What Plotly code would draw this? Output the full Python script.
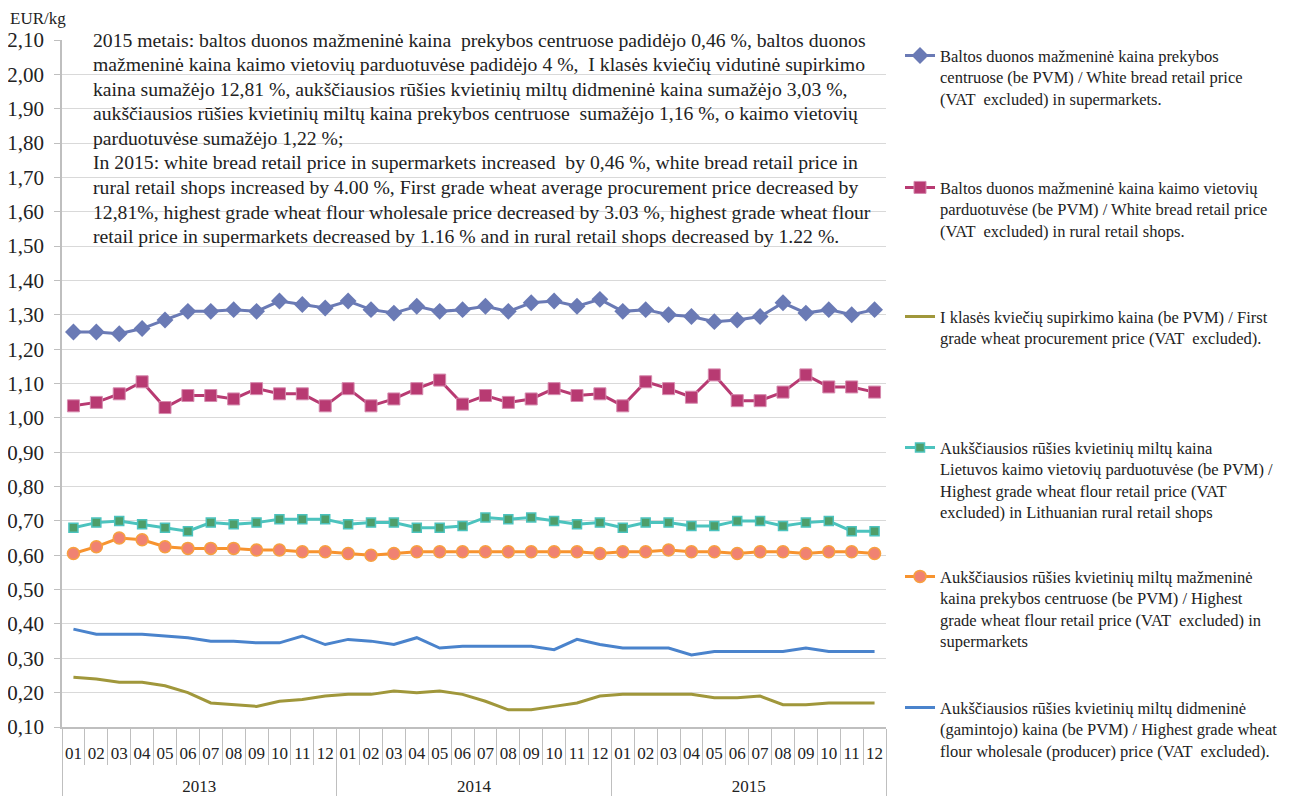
import plotly.graph_objects as go

months = ["01", "02", "03", "04", "05", "06", "07", "08", "09", "10", "11", "12"] * 3
years = ["2013"] * 12 + ["2014"] * 12 + ["2015"] * 12

white_bread_super = [1.25, 1.25, 1.245, 1.26, 1.285, 1.31, 1.31, 1.315, 1.31, 1.34, 1.33, 1.32,
                     1.34, 1.315, 1.305, 1.325, 1.31, 1.315, 1.325, 1.31, 1.335, 1.34, 1.325, 1.345,
                     1.31, 1.315, 1.30, 1.295, 1.28, 1.285, 1.295, 1.335, 1.305, 1.315, 1.30, 1.315]
white_bread_rural = [1.035, 1.045, 1.07, 1.105, 1.03, 1.065, 1.065, 1.055, 1.085, 1.07, 1.07, 1.035,
                     1.085, 1.035, 1.055, 1.085, 1.11, 1.04, 1.065, 1.045, 1.055, 1.085, 1.065, 1.07,
                     1.035, 1.105, 1.085, 1.06, 1.125, 1.05, 1.05, 1.075, 1.125, 1.09, 1.09, 1.075]
wheat_procurement = [0.245, 0.24, 0.23, 0.23, 0.22, 0.20, 0.17, 0.165, 0.16, 0.175, 0.18, 0.19,
                     0.195, 0.195, 0.205, 0.20, 0.205, 0.195, 0.175, 0.15, 0.15, 0.16, 0.17, 0.19,
                     0.195, 0.195, 0.195, 0.195, 0.185, 0.185, 0.19, 0.165, 0.165, 0.17, 0.17, 0.17]
flour_rural = [0.68, 0.695, 0.70, 0.69, 0.68, 0.67, 0.695, 0.69, 0.695, 0.705, 0.705, 0.705,
               0.69, 0.695, 0.695, 0.68, 0.68, 0.685, 0.71, 0.705, 0.71, 0.70, 0.69, 0.695,
               0.68, 0.695, 0.695, 0.685, 0.685, 0.70, 0.70, 0.685, 0.695, 0.70, 0.67, 0.67]
flour_super = [0.605, 0.625, 0.65, 0.645, 0.625, 0.62, 0.62, 0.62, 0.615, 0.615, 0.61, 0.61,
               0.605, 0.60, 0.605, 0.61, 0.61, 0.61, 0.61, 0.61, 0.61, 0.61, 0.61, 0.605,
               0.61, 0.61, 0.615, 0.61, 0.61, 0.605, 0.61, 0.61, 0.605, 0.61, 0.61, 0.605]
flour_wholesale = [0.385, 0.37, 0.37, 0.37, 0.365, 0.36, 0.35, 0.35, 0.345, 0.345, 0.365, 0.34,
                   0.355, 0.35, 0.34, 0.36, 0.33, 0.335, 0.335, 0.335, 0.335, 0.325, 0.355, 0.34,
                   0.33, 0.33, 0.33, 0.31, 0.32, 0.32, 0.32, 0.32, 0.33, 0.32, 0.32, 0.32]

names = [
    "Baltos duonos mažmeninė kaina prekybos<br>centruose (be PVM) / White bread retail price<br>(VAT  excluded) in supermarkets.",
    "Baltos duonos mažmeninė kaina kaimo vietovių<br>parduotuvėse (be PVM) / White bread retail price<br>(VAT  excluded) in rural retail shops.",
    "I klasės kviečių supirkimo kaina (be PVM) / First<br>grade wheat procurement price (VAT  excluded).",
    "Aukščiausios rūšies kvietinių miltų kaina<br>Lietuvos kaimo vietovių parduotuvėse (be PVM) /<br>Highest grade wheat flour retail price (VAT<br>excluded) in Lithuanian rural retail shops",
    "Aukščiausios rūšies kvietinių miltų mažmeninė<br>kaina prekybos centruose (be PVM) / Highest<br>grade wheat flour retail price (VAT  excluded) in<br>supermarkets",
    "Aukščiausios rūšies kvietinių miltų didmeninė<br>(gamintojo) kaina (be PVM) / Highest grade wheat<br>flour wholesale (producer) price (VAT  excluded).",
]

note_lines = [
    "2015 metais: baltos duonos mažmeninė kaina  prekybos centruose padidėjo 0,46 %, baltos duonos",
    "mažmeninė kaina kaimo vietovių parduotuvėse padidėjo 4 %,  I klasės kviečių vidutinė supirkimo",
    "kaina sumažėjo 12,81 %, aukščiausios rūšies kvietinių miltų didmeninė kaina sumažėjo 3,03 %,",
    "aukščiausios rūšies kvietinių miltų kaina prekybos centruose  sumažėjo 1,16 %, o kaimo vietovių",
    "parduotuvėse sumažėjo 1,22 %;",
    "In 2015: white bread retail price in supermarkets increased  by 0,46 %, white bread retail price in",
    "rural retail shops increased by 4.00 %, First grade wheat average procurement price decreased by",
    "12,81%, highest grade wheat flour wholesale price decreased by 3.03 %, highest grade wheat flour",
    "retail price in supermarkets decreased by 1.16 % and in rural retail shops decreased by 1.22 %.",
]

FONT = "Liberation Serif"
# leading line break lowers the year row below the month row
x = [["<br>" + y for y in years], months]

fig = go.Figure()

series = [
    (white_bread_super, dict(color="#6A7AB5", width=3),
     dict(symbol="diamond", size=13, color="#6A7AB5")),
    (white_bread_rural, dict(color="#B83A72", width=3),
     dict(symbol="square", size=12, color="#B83A72", line=dict(color="#D58AAE", width=1))),
    (wheat_procurement, dict(color="#A0973B", width=3), None),
    (flour_rural, dict(color="#4CC3BE", width=3),
     dict(symbol="square", size=9, color="#4E9E6A", line=dict(color="#4CC3BE", width=1.5))),
    (flour_super, dict(color="#F7932F", width=3),
     dict(symbol="circle", size=12, color="#F08272", line=dict(color="#F7A040", width=1.5))),
    (flour_wholesale, dict(color="#4A83CC", width=3), None),
]

legend_y = [1.0025, 0.8105, 0.6227, 0.4320, 0.2443, 0.0536]

for i, (vals, line, marker) in enumerate(series):
    lg = "legend" if i == 0 else f"legend{i + 1}"
    fig.add_trace(go.Scatter(
        x=x, y=vals, name=names[i],
        mode="lines+markers" if marker else "lines",
        line=line, marker=marker,
        legend=lg,
    ))

legends = {}
for i, ly in enumerate(legend_y):
    key = "legend" if i == 0 else f"legend{i + 1}"
    legends[key] = dict(
        x=1.017, xanchor="left", y=ly, yanchor="top",
        valign="top", bgcolor="rgba(0,0,0,0)",
        font=dict(family=FONT, size=16.5, color="#222"),
        itemwidth=30,
    )

annotations = [dict(
    text="EUR/kg", xref="paper", yref="paper", x=-0.0655, y=1.0306,
    xanchor="left", yanchor="middle", showarrow=False,
    font=dict(family=FONT, size=17, color="#222"),
)]
for i, t in enumerate(note_lines):
    py = 24.5 * i
    annotations.append(dict(
        text=t, xref="paper", yref="paper",
        x=0.0352, y=(687 - py) / 687, xanchor="left", yanchor="middle",
        showarrow=False, font=dict(family=FONT, size=19.7, color="#222"),
    ))

# the page body adds an 8 px offset; the figure is sized so the plot area lands
# at x 62-886, y 40-727 of the screenshot
fig.update_layout(
    width=1285, height=788,
    margin=dict(l=54, r=407, t=32, b=69, autoexpand=False),
    paper_bgcolor="white", plot_bgcolor="white",
    separators=", ",
    showlegend=True,
    annotations=annotations,
    font=dict(family=FONT, color="#222"),
    **legends,
)

fig.update_yaxes(
    range=[0.1, 2.1], dtick=0.1, tickformat=".2f",
    showgrid=True, gridcolor="#D9D9D9", gridwidth=1,
    showline=True, linecolor="#BFBFBF", linewidth=1.5,
    ticks="outside", ticklen=6, tickcolor="#BFBFBF",
    ticklabelstandoff=6,
    tickfont=dict(family=FONT, size=21, color="#222"),
    zeroline=False, automargin=False,
)
fig.update_xaxes(
    type="multicategory", range=[-0.5, 35.5],
    tickmode="linear", tick0=0, dtick=1,
    tickson="boundaries",
    ticks="outside", ticklen=36, tickcolor="#BFBFBF",
    ticklabelstandoff=10,
    showdividers=True, dividercolor="#BFBFBF", dividerwidth=1,
    showline=True, linecolor="#BFBFBF", linewidth=1.5,
    showgrid=False, tickangle=0, automargin=False,
    tickfont=dict(family=FONT, size=17, color="#222"),
)

fig.write_html("out.html")
